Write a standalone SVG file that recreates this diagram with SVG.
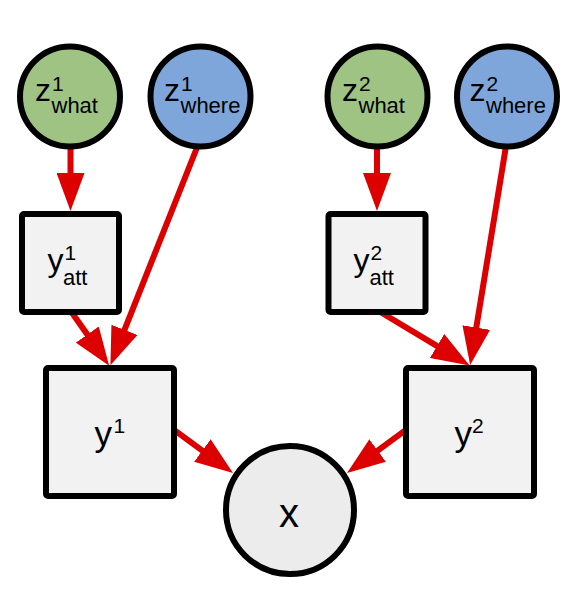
<svg xmlns="http://www.w3.org/2000/svg" width="575" height="595" viewBox="0 0 575 595">
  <style>
    .edge { stroke: #dd0000; stroke-width: 6; fill: none; marker-end: url(#ah); }
    .node { stroke: #000000; stroke-width: 6; }
    .what { fill: #9fc383; }
    .where { fill: #7ea6da; }
    .box { fill: #f2f2f2; }
    .obs { fill: #ececec; }
    text { font-family: "Liberation Sans", Arial, Helvetica, sans-serif; fill: #000000; }
    .big { font-size: 32px; }
    .sup { font-size: 21px; }
    .sub { font-size: 22px; }
  </style>
  <defs>
    <marker id="ah" markerUnits="userSpaceOnUse" viewBox="0 0 38 28" markerWidth="38" markerHeight="28" refX="8" refY="14" orient="auto">
      <path d="M0,0 L38,14 L0,28 Z" fill="#dd0000"/>
    </marker>
  </defs>
  <rect width="575" height="595" fill="#ffffff"/>

  <g id="connectors">
    <line class="edge" x1="70.5" y1="140" x2="70.5" y2="181"/>
    <line class="edge" x1="200" y1="140" x2="121.5" y2="337.3"/>
    <line class="edge" x1="70" y1="310" x2="91.9" y2="341.1"/>
    <line class="edge" x1="172" y1="428.3" x2="208.8" y2="455.3"/>
    <line class="edge" x1="377" y1="140" x2="377" y2="181"/>
    <line class="edge" x1="507" y1="140" x2="475" y2="335.4"/>
    <line class="edge" x1="377" y1="310" x2="443.9" y2="350.1"/>
    <line class="edge" x1="408" y1="428.3" x2="371.2" y2="455.3"/>
  </g>

  <g id="z1what">
    <circle class="node what" cx="70" cy="96.5" r="50"/>
    <text class="big" x="35" y="101">z</text>
    <text class="sup" x="52" y="91">1</text>
    <text class="sub" x="51.5" y="113">what</text>
  </g>
  <g id="z1where">
    <circle class="node where" cx="200.5" cy="96.5" r="50"/>
    <text class="big" x="164" y="101">z</text>
    <text class="sup" x="181" y="91">1</text>
    <text class="sub" x="180.5" y="113">where</text>
  </g>
  <g id="z2what">
    <circle class="node what" cx="377.5" cy="96.5" r="50"/>
    <text class="big" x="342" y="101">z</text>
    <text class="sup" x="359" y="91">2</text>
    <text class="sub" x="358.5" y="113">what</text>
  </g>
  <g id="z2where">
    <circle class="node where" cx="507" cy="96.5" r="50"/>
    <text class="big" x="469.5" y="101">z</text>
    <text class="sup" x="486.5" y="91">2</text>
    <text class="sub" x="486" y="113">where</text>
  </g>

  <g id="y1att">
    <rect class="node box" x="22" y="214" width="97" height="98" rx="2"/>
    <text class="big" x="47.5" y="271">y</text>
    <text class="sup" x="64.5" y="260">1</text>
    <text class="sub" x="63" y="285">att</text>
  </g>
  <g id="y2att">
    <rect class="node box" x="328.5" y="214" width="97" height="98" rx="2"/>
    <text class="big" x="353.5" y="271">y</text>
    <text class="sup" x="370.5" y="260">2</text>
    <text class="sub" x="369.5" y="285">att</text>
  </g>

  <g id="y1">
    <rect class="node box" x="46" y="368" width="128" height="128" rx="2"/>
    <text x="94.5" y="446" font-size="35">y</text>
    <text x="113.5" y="433" font-size="21">1</text>
  </g>
  <g id="y2">
    <rect class="node box" x="406" y="368" width="128" height="128" rx="2"/>
    <text x="454.5" y="446" font-size="35">y</text>
    <text x="472" y="433" font-size="21">2</text>
  </g>

  <g id="x">
    <circle class="node obs" cx="290" cy="510" r="64"/>
    <text x="289" y="527" font-size="40" text-anchor="middle">x</text>
  </g>
</svg>
